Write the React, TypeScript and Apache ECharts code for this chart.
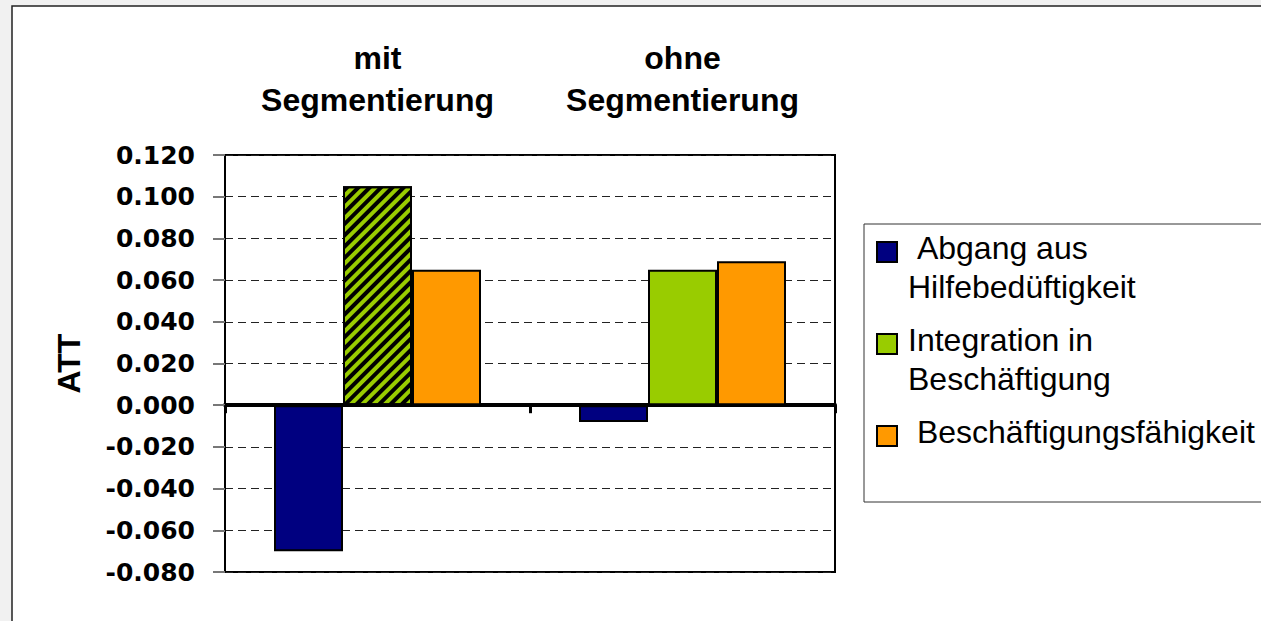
import React, { useEffect, useRef } from "react";
import * as echarts from "echarts";

const categories = ["mit\nSegmentierung", "ohne\nSegmentierung"];
const seriesNames = [
  "Abgang aus Hilfebedüftigkeit",
  "Integration in Beschäftigung",
  "Beschäftigungsfähigkeit",
];
const legendLabels = [
  "\u00a0Abgang aus\nHilfebedüftigkeit",
  "Integration in\nBeschäftigung",
  "\u00a0Beschäftigungsfähigkeit",
];
const seriesColors = ["#000080", "#99cc00", "#ff9900"];
const abgang = [-0.07, -0.008];
const integration = [0.105, 0.065];
const faehigkeit = [0.065, 0.069];
const yMin = -0.08;
const yMax = 0.12;
const yInterval = 0.02;
const yAxisName = "ATT";

export default function App() {
  const ref = useRef<HTMLDivElement>(null);
  useEffect(() => {
    if (!ref.current) return;
    const chart = echarts.init(ref.current, null, { renderer: "svg" });
    const values = [abgang, integration, faehigkeit];
    const hatch = {
      symbol: "rect",
      symbolSize: 1,
      color: "#000",
      dashArrayX: [1, 0],
      dashArrayY: [4, 4],
      rotation: -Math.PI / 4,
    };
    const series = values.map((arr, si) => ({
      name: seriesNames[si],
      type: "bar",
      barWidth: 69,
      barGap: "0%",
      data: arr.map((v, ci) =>
        si === 1 && ci === 0
          ? { value: v, itemStyle: { decal: hatch } }
          : v
      ),
      itemStyle: { color: seriesColors[si], borderColor: "#000", borderWidth: 2 },
    }));

    const legendGraphics: any[] = [];
    let top = 228;
    legendLabels.forEach((lab, i) => {
      const lines = lab.split("\n").length;
      legendGraphics.push({
        type: "rect",
        shape: { x: 877, y: top + 14, width: 20, height: 20 },
        style: { fill: seriesColors[i], stroke: "#000", lineWidth: 2 },
        z: 10,
      });
      legendGraphics.push({
        type: "text",
        x: 908,
        y: top,
        style: {
          text: lab,
          font: "32px 'Liberation Sans', Arial, sans-serif",
          lineHeight: 39,
          fill: "#000",
          verticalAlign: "top",
          align: "left",
        },
        z: 10,
      });
      top += lines * 39 + 14;
    });

    chart.setOption({
      animation: false,
      backgroundColor: "#f1f1f1",
      graphic: [
        {
          type: "rect",
          shape: { x: 12, y: 6, width: 1400, height: 800 },
          style: { fill: "#fff", stroke: "#222", lineWidth: 1.5 },
          z: -10,
        },
        {
          type: "rect",
          shape: { x: 864, y: 224, width: 500, height: 278 },
          style: { fill: "#fff", stroke: "#333", lineWidth: 1 },
          z: 5,
        },
        ...legendGraphics,
      ],
      grid: {
        left: 225,
        top: 155,
        width: 610,
        height: 417,
        show: true,
        borderColor: "#000",
        borderWidth: 2,
        backgroundColor: "transparent",
        containLabel: false,
      },
      xAxis: [
        {
          type: "category",
          data: categories,
          position: "bottom",
          axisLine: { onZero: true, lineStyle: { color: "#000", width: 4 } },
          axisTick: { show: true, length: 8, lineStyle: { color: "#000", width: 3 } },
          axisLabel: { show: false },
          splitLine: { show: false },
        },
        {
          type: "category",
          data: categories,
          position: "top",
          axisLine: { show: false },
          axisTick: { show: false },
          axisLabel: {
            show: true,
            margin: 34,
            fontFamily: "'Liberation Sans', Arial, sans-serif",
            fontWeight: "bold",
            fontSize: 32,
            lineHeight: 42,
            color: "#000",
          },
        },
      ],
      yAxis: {
        type: "value",
        min: yMin,
        max: yMax,
        interval: yInterval,
        name: yAxisName,
        nameLocation: "middle",
        nameRotate: 90,
        nameGap: 140,
        nameTextStyle: {
          fontFamily: "'Liberation Sans', Arial, sans-serif",
          fontWeight: "bold",
          fontSize: 32,
          color: "#000",
        },
        axisLine: { show: true, lineStyle: { color: "#000", width: 2 } },
        axisTick: { show: true, length: 12, lineStyle: { color: "#777", width: 2 } },
        axisLabel: {
          margin: 30,
          formatter: (v: number) => v.toFixed(3),
          fontFamily: "'DejaVu Sans', sans-serif",
          fontWeight: "bold",
          fontSize: 25,
          color: "#000",
        },
        splitLine: { show: true, lineStyle: { color: "#222", width: 1, type: [8, 5] } },
      },
      series,
    });
    return () => chart.dispose();
  }, []);
  return (
    <div
      ref={ref}
      style={{ position: "absolute", left: 0, top: 0, width: 1261, height: 621 }}
    />
  );
}
